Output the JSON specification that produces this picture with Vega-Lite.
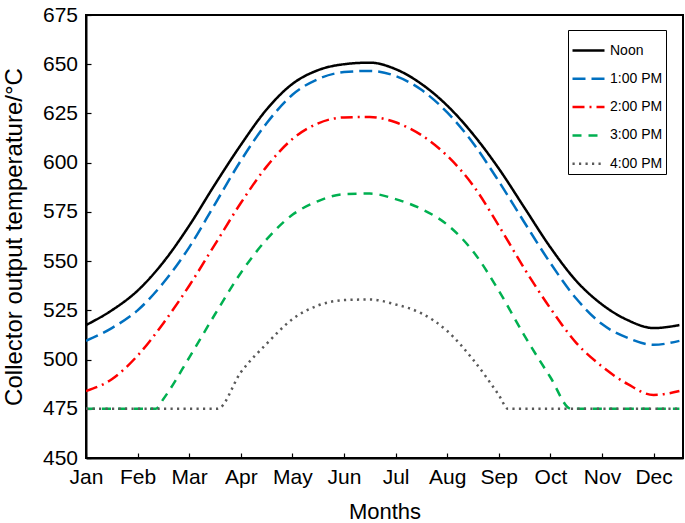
{
  "$schema": "https://vega.github.io/schema/vega-lite/v6.json",
  "width": 597,
  "height": 443,
  "autosize": {"type": "none"},
  "padding": {"left": 86, "top": 15, "right": 2, "bottom": 65},
  "background": "white",
  "config": {
    "font": "Liberation Sans",
    "view": {"stroke": "#000", "strokeWidth": 2},
    "axis": {
      "labelFont": "Liberation Sans",
      "titleFont": "Liberation Sans",
      "labelFontSize": 21,
      "titleFontSize": 22,
      "labelColor": "#000",
      "titleColor": "#000",
      "titleFontWeight": "normal",
      "domainColor": "#000",
      "domainWidth": 2,
      "tickColor": "#000",
      "tickWidth": 1.2,
      "grid": false
    },
    "legend": {
      "labelFont": "Liberation Sans",
      "labelFontSize": 14,
      "labelColor": "#000"
    }
  },
  "data": {
    "values": [
      {"m": 0, "v": 517.5, "s": "Noon"}, {"m": 0.5, "v": 525, "s": "Noon"}, {"m": 1, "v": 535, "s": "Noon"}, {"m": 1.5, "v": 549.5, "s": "Noon"},
      {"m": 2, "v": 568, "s": "Noon"}, {"m": 2.5, "v": 589, "s": "Noon"}, {"m": 3, "v": 609, "s": "Noon"}, {"m": 3.5, "v": 627, "s": "Noon"},
      {"m": 4, "v": 640, "s": "Noon"}, {"m": 4.5, "v": 647, "s": "Noon"}, {"m": 5, "v": 650, "s": "Noon"}, {"m": 5.5, "v": 650.8, "s": "Noon"},
      {"m": 6, "v": 647.5, "s": "Noon"}, {"m": 6.5, "v": 640, "s": "Noon"}, {"m": 7, "v": 629, "s": "Noon"}, {"m": 7.5, "v": 614.5, "s": "Noon"},
      {"m": 8, "v": 597, "s": "Noon"}, {"m": 8.5, "v": 577, "s": "Noon"}, {"m": 9, "v": 557, "s": "Noon"}, {"m": 9.5, "v": 540, "s": "Noon"},
      {"m": 10, "v": 528, "s": "Noon"}, {"m": 10.5, "v": 520, "s": "Noon"}, {"m": 11, "v": 516, "s": "Noon"}, {"m": 11.5, "v": 517.5, "s": "Noon"},

      {"m": 0, "v": 509.5, "s": "1:00 PM"}, {"m": 0.5, "v": 516, "s": "1:00 PM"}, {"m": 1, "v": 525, "s": "1:00 PM"}, {"m": 1.5, "v": 539, "s": "1:00 PM"},
      {"m": 2, "v": 557, "s": "1:00 PM"}, {"m": 2.5, "v": 579, "s": "1:00 PM"}, {"m": 3, "v": 601, "s": "1:00 PM"}, {"m": 3.5, "v": 620, "s": "1:00 PM"},
      {"m": 4, "v": 634.5, "s": "1:00 PM"}, {"m": 4.5, "v": 642.5, "s": "1:00 PM"}, {"m": 5, "v": 646, "s": "1:00 PM"}, {"m": 5.5, "v": 646.6, "s": "1:00 PM"},
      {"m": 6, "v": 644, "s": "1:00 PM"}, {"m": 6.5, "v": 637, "s": "1:00 PM"}, {"m": 7, "v": 625.5, "s": "1:00 PM"}, {"m": 7.5, "v": 610, "s": "1:00 PM"},
      {"m": 8, "v": 590.5, "s": "1:00 PM"}, {"m": 8.5, "v": 569.5, "s": "1:00 PM"}, {"m": 9, "v": 549, "s": "1:00 PM"}, {"m": 9.5, "v": 531, "s": "1:00 PM"},
      {"m": 10, "v": 518, "s": "1:00 PM"}, {"m": 10.5, "v": 511, "s": "1:00 PM"}, {"m": 11, "v": 507.5, "s": "1:00 PM"}, {"m": 11.5, "v": 509.5, "s": "1:00 PM"},

      {"m": 0, "v": 484, "s": "2:00 PM"}, {"m": 0.5, "v": 490, "s": "2:00 PM"}, {"m": 1, "v": 502, "s": "2:00 PM"}, {"m": 1.5, "v": 518.5, "s": "2:00 PM"},
      {"m": 2, "v": 537.5, "s": "2:00 PM"}, {"m": 2.5, "v": 558.5, "s": "2:00 PM"}, {"m": 3, "v": 579.5, "s": "2:00 PM"}, {"m": 3.5, "v": 598, "s": "2:00 PM"},
      {"m": 4, "v": 612, "s": "2:00 PM"}, {"m": 4.5, "v": 620, "s": "2:00 PM"}, {"m": 5, "v": 623, "s": "2:00 PM"}, {"m": 5.5, "v": 623.2, "s": "2:00 PM"},
      {"m": 6, "v": 620.5, "s": "2:00 PM"}, {"m": 6.5, "v": 614, "s": "2:00 PM"}, {"m": 7, "v": 603.5, "s": "2:00 PM"}, {"m": 7.5, "v": 588.5, "s": "2:00 PM"},
      {"m": 8, "v": 568, "s": "2:00 PM"}, {"m": 8.5, "v": 546, "s": "2:00 PM"}, {"m": 9, "v": 526, "s": "2:00 PM"}, {"m": 9.5, "v": 508.5, "s": "2:00 PM"},
      {"m": 10, "v": 496.5, "s": "2:00 PM"}, {"m": 10.5, "v": 487.5, "s": "2:00 PM"}, {"m": 11, "v": 482, "s": "2:00 PM"}, {"m": 11.5, "v": 484, "s": "2:00 PM"},

      {"m": 0, "v": 475, "s": "3:00 PM"}, {"m": 0.5, "v": 475, "s": "3:00 PM"}, {"m": 1, "v": 475, "s": "3:00 PM"}, {"m": 1.35, "v": 475, "s": "3:00 PM"},
      {"m": 1.5, "v": 480, "s": "3:00 PM"}, {"m": 2, "v": 501, "s": "3:00 PM"}, {"m": 2.5, "v": 523, "s": "3:00 PM"}, {"m": 3, "v": 544, "s": "3:00 PM"},
      {"m": 3.5, "v": 561, "s": "3:00 PM"}, {"m": 4, "v": 573.5, "s": "3:00 PM"}, {"m": 4.5, "v": 580.5, "s": "3:00 PM"}, {"m": 5, "v": 584, "s": "3:00 PM"},
      {"m": 5.5, "v": 584.3, "s": "3:00 PM"}, {"m": 6, "v": 581.5, "s": "3:00 PM"}, {"m": 6.5, "v": 576.5, "s": "3:00 PM"}, {"m": 7, "v": 568.5, "s": "3:00 PM"},
      {"m": 7.5, "v": 555, "s": "3:00 PM"}, {"m": 8, "v": 535, "s": "3:00 PM"}, {"m": 8.5, "v": 512, "s": "3:00 PM"}, {"m": 9, "v": 491, "s": "3:00 PM"},
      {"m": 9.4, "v": 475, "s": "3:00 PM"}, {"m": 10, "v": 475, "s": "3:00 PM"}, {"m": 10.5, "v": 475, "s": "3:00 PM"}, {"m": 11, "v": 475, "s": "3:00 PM"},
      {"m": 11.5, "v": 475, "s": "3:00 PM"},

      {"m": 0, "v": 475, "s": "4:00 PM"}, {"m": 1, "v": 475, "s": "4:00 PM"}, {"m": 2, "v": 475, "s": "4:00 PM"}, {"m": 2.55, "v": 475, "s": "4:00 PM"},
      {"m": 3, "v": 493.5, "s": "4:00 PM"}, {"m": 3.5, "v": 508, "s": "4:00 PM"}, {"m": 4, "v": 520.5, "s": "4:00 PM"}, {"m": 4.5, "v": 527.5, "s": "4:00 PM"},
      {"m": 5, "v": 530.2, "s": "4:00 PM"}, {"m": 5.5, "v": 530.5, "s": "4:00 PM"}, {"m": 6, "v": 528, "s": "4:00 PM"}, {"m": 6.5, "v": 523.5, "s": "4:00 PM"},
      {"m": 7, "v": 514.5, "s": "4:00 PM"}, {"m": 7.5, "v": 500, "s": "4:00 PM"}, {"m": 8, "v": 482, "s": "4:00 PM"}, {"m": 8.18, "v": 475, "s": "4:00 PM"},
      {"m": 9, "v": 475, "s": "4:00 PM"}, {"m": 10, "v": 475, "s": "4:00 PM"}, {"m": 11, "v": 475, "s": "4:00 PM"}, {"m": 11.5, "v": 475, "s": "4:00 PM"}
    ]
  },
  "mark": {"type": "line", "interpolate": "monotone", "strokeWidth": 2.5, "clip": true},
  "encoding": {
    "x": {
      "field": "m",
      "type": "quantitative",
      "scale": {"domain": [0, 11.57], "nice": false, "zero": false},
      "axis": {
        "values": [0, 1, 2, 3, 4, 5, 6, 7, 8, 9, 10, 11],
        "labelExpr": "['Jan','Feb','Mar','Apr','May','Jun','Jul','Aug','Sep','Oct','Nov','Dec'][datum.value]",
        "title": "Months",
        "tickSize": -5,
        "labelPadding": 13,
        "titlePadding": 14,
        "labelFlush": false,
        "labelOverlap": false
      }
    },
    "y": {
      "field": "v",
      "type": "quantitative",
      "scale": {"domain": [450, 675], "nice": false, "zero": false},
      "axis": {
        "values": [450, 475, 500, 525, 550, 575, 600, 625, 650, 675],
        "title": "Collector output temperature/°C",
        "titleFontSize": 24,
        "tickSize": -5,
        "labelPadding": 13.5,
        "titlePadding": 16,
        "labelFlush": false,
        "labelOverlap": false
      }
    },
    "color": {
      "field": "s",
      "type": "nominal",
      "sort": ["Noon", "1:00 PM", "2:00 PM", "3:00 PM", "4:00 PM"],
      "scale": {
        "domain": ["Noon", "1:00 PM", "2:00 PM", "3:00 PM", "4:00 PM"],
        "range": ["#000000", "#0070C0", "#FF0000", "#00B050", "#595959"]
      },
      "legend": {
        "title": null,
        "orient": "none",
        "legendX": 482,
        "legendY": 15,
        "fillColor": "white",
        "strokeColor": "#000",
        "padding": 3,
        "symbolType": "stroke",
        "symbolSize": 1024,
        "symbolStrokeWidth": 2.5,
        "labelOffset": 4,
        "rowPadding": 3.3
      }
    },
    "strokeDash": {
      "field": "s",
      "type": "nominal",
      "sort": ["Noon", "1:00 PM", "2:00 PM", "3:00 PM", "4:00 PM"],
      "scale": {
        "domain": ["Noon", "1:00 PM", "2:00 PM", "3:00 PM", "4:00 PM"],
        "range": [[1, 0], [13, 6], [12, 5, 2, 5], [9, 7], [2.2, 4.3]]
      },
      "legend": {
        "title": null,
        "orient": "none",
        "legendX": 482,
        "legendY": 15,
        "fillColor": "white",
        "strokeColor": "#000",
        "padding": 3,
        "symbolType": "stroke",
        "symbolSize": 1024,
        "symbolStrokeWidth": 2.5,
        "labelOffset": 4,
        "rowPadding": 3.3
      }
    }
  }
}
